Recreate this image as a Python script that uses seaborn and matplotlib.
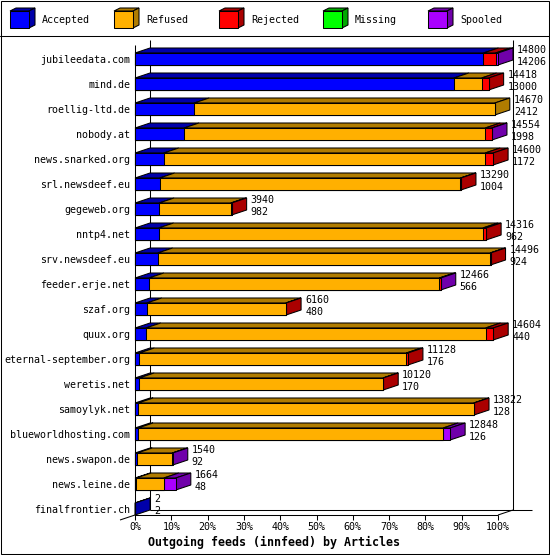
import numpy as np
import pandas as pd
import seaborn as sns
import matplotlib.pyplot as plt
from matplotlib.patches import Polygon, Rectangle

# ---------------- data ----------------
servers = ["jubileedata.com", "mind.de", "roellig-ltd.de", "nobody.at",
           "news.snarked.org", "srl.newsdeef.eu", "gegeweb.org", "nntp4.net",
           "srv.newsdeef.eu", "feeder.erje.net", "szaf.org", "quux.org",
           "eternal-september.org", "weretis.net", "samoylyk.net",
           "blueworldhosting.com", "news.swapon.de", "news.leine.de",
           "finalfrontier.ch"]
offered = [14800, 14418, 14670, 14554, 14600, 13290, 3940, 14316, 14496,
           12466, 6160, 14604, 11128, 10120, 13822, 12848, 1540, 1664, 2]
accepted = [14206, 13000, 2412, 1998, 1172, 1004, 982, 962, 924,
            566, 480, 440, 176, 170, 128, 126, 92, 48, 2]
refused = [0, 1130, 12258, 12280, 13102, 12266, 2924, 13218, 13552,
           11840, 5670, 13851, 10884, 9940, 13684, 12436, 1428, 1126, 0]
rejected = [494, 288, 0, 272, 326, 20, 34, 136, 20,
            50, 10, 313, 68, 10, 10, 0, 0, 0, 0]
missing = [0, 0, 0, 0, 0, 0, 0, 0, 0,
           0, 0, 0, 0, 0, 0, 0, 0, 0, 0]
spooled = [100, 0, 0, 4, 0, 0, 0, 0, 0,
           10, 0, 0, 0, 0, 0, 286, 20, 490, 0]

series_names = ["Accepted", "Refused", "Rejected", "Missing", "Spooled"]
front_colors = ["#0000FF", "#FFB000", "#FF0000", "#00FF00", "#AA00FF"]
dark_colors = ["#0000AA", "#B07C00", "#AA0000", "#00A800", "#7000AA"]
xticks = [0, 10, 20, 30, 40, 50, 60, 70, 80, 90, 100]
xlabel = "Outgoing feeds (innfeed) by Articles"

# ---------------- layout ----------------
W, H, DPI = 550, 555, 100
X0, X1 = 135, 498          # pixel x of 0% and 100%
YT, YB = 40, 515           # pixel top / floor of plotting area
PITCH = 25.0               # pixels per row
BAR_H = 12 / PITCH
DXP, DYP = 15, 5           # 3D depth in pixels
LW = 0.75

sns.set_theme(style="white")
plt.rcParams['font.family'] = ['DejaVu Sans Mono']

fig = plt.figure(figsize=(W / DPI, H / DPI), dpi=DPI)
fig.patch.set_facecolor("white")

bg = fig.add_axes([0, 0, 1, 1], zorder=0)
bg.set_xlim(0, W)
bg.set_ylim(H, 0)
bg.axis("off")

ax = fig.add_axes([X0 / W, 1 - YB / H, (X1 - X0) / W, (YB - YT) / H], zorder=1)
ax.patch.set_alpha(0)

n = len(servers)
scale = 100.0 / max(offered)
segs = np.array([accepted, refused, rejected, missing, spooled], float) * scale
cum = np.cumsum(segs, axis=0)

# front faces: stacked via cumulative overlays
for k in reversed(range(5)):
    df = pd.DataFrame({"server": servers, "value": cum[k]})
    sns.barplot(data=df, x="value", y="server", orient="h", color=front_colors[k],
                saturation=1, width=BAR_H, edgecolor="black", linewidth=LW,
                errorbar=None, ax=ax, zorder=4)
for p in ax.patches:
    p.set_clip_on(False)

ybot = (n - 1) + BAR_H / 2
ytop = ybot - (YB - YT) / PITCH
ax.set_xlim(0, 100)
ax.set_ylim(ybot, ytop)

dxd = DXP * 100.0 / (X1 - X0)
dyd = DYP / PITCH

# 3D top and side faces
for i in range(n):
    yt = i - BAR_H / 2
    yb = i + BAR_H / 2
    last = 0
    for k in range(5):
        w = segs[k, i]
        if w <= 0:
            continue
        last = k
        a, b = cum[k, i] - w, cum[k, i]
        ax.add_patch(Polygon([(a, yt), (b, yt), (b + dxd, yt - dyd), (a + dxd, yt - dyd)],
                             closed=True, facecolor=dark_colors[k], edgecolor="black",
                             linewidth=LW, zorder=3, joinstyle="miter", clip_on=False))
    e = cum[4, i]
    ax.add_patch(Polygon([(e, yt), (e, yb), (e + dxd, yb - dyd), (e + dxd, yt - dyd)],
                         closed=True, facecolor=dark_colors[last], edgecolor="black",
                         linewidth=LW, zorder=3, joinstyle="miter", clip_on=False))
    tx = e + dxd + 4 * 100.0 / (X1 - X0)
    ax.text(tx, i - 0.26, str(offered[i]), ha="left", va="baseline",
            fontsize=7.2, color="black", zorder=5, clip_on=False)
    ax.text(tx, i + 0.22, str(accepted[i]), ha="left", va="baseline",
            fontsize=7.2, color="black", zorder=5, clip_on=False)

# walls and floor
floor_back = ybot - dyd
kw = dict(color="black", linewidth=LW, clip_on=False, solid_capstyle="butt")
ax.plot([dxd, dxd], [ytop, floor_back], zorder=1, **kw)
ax.plot([100 + dxd, 100 + dxd], [ytop, floor_back], zorder=1, **kw)
ax.plot([0, 0], [ytop + dyd, ybot], zorder=2, **kw)
ax.plot([dxd, (532 - X0) * 100.0 / (X1 - X0)], [floor_back, floor_back], zorder=1, **kw)
ax.plot([0, 100], [ybot, ybot], zorder=2, **kw)
ax.plot([100, 100 + dxd], [ybot, floor_back], zorder=2, **kw)
ax.plot([0, -dxd], [ybot, ybot + dyd], zorder=2, **kw)

for s in ax.spines.values():
    s.set_visible(False)
ax.set_xticks(xticks)
ax.set_xticklabels([f"{t}%" for t in xticks])
ax.tick_params(axis="x", direction="out", length=5 * 0.72, width=LW, color="black",
               pad=1.5, labelsize=7.2, labelcolor="black", bottom=True)
ax.tick_params(axis="y", length=0, pad=3.4, labelsize=7.2, labelcolor="black")
ax.set_xlabel("")
ax.set_ylabel("")
ax.grid(False)

# frame, legend, title
bg.add_patch(Rectangle((0.5, 0.5), W - 1.5, H - 1.5, fill=False, edgecolor="black", linewidth=LW))
bg.plot([0, W], [35.5, 35.5], color="black", linewidth=LW)
leg_x = [10, 114, 219, 323, 428]
for j, x in enumerate(leg_x):
    bg.add_patch(Polygon([(x, 11), (x + 19, 11), (x + 25, 8), (x + 6, 8)], closed=True,
                         facecolor=dark_colors[j], edgecolor="black", linewidth=LW))
    bg.add_patch(Polygon([(x + 19, 11), (x + 19, 28), (x + 25, 25), (x + 25, 8)], closed=True,
                         facecolor=dark_colors[j], edgecolor="black", linewidth=LW))
    bg.add_patch(Rectangle((x, 11), 19, 17, facecolor=front_colors[j], edgecolor="black",
                           linewidth=LW))
    bg.text(x + 32, 20, series_names[j], ha="left", va="center", fontsize=7.2, color="black")

bg.text(274, 542, xlabel, ha="center", va="center", fontsize=8.4,
        fontweight="bold", color="black")

fig.savefig("out.png", dpi=DPI, facecolor="white")
